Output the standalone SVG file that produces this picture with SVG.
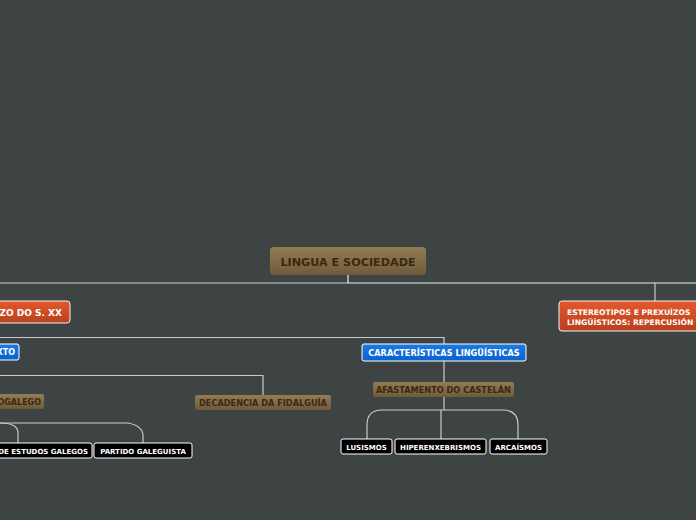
<svg xmlns="http://www.w3.org/2000/svg" width="696" height="520" viewBox="0 0 696 520">
<defs>
<linearGradient id="gBrown" x1="0" y1="0" x2="0" y2="1"><stop offset="0" stop-color="#927c55"/><stop offset="1" stop-color="#6f5b39"/></linearGradient>
<linearGradient id="gRed" x1="0" y1="0" x2="0" y2="1"><stop offset="0" stop-color="#e5582b"/><stop offset="1" stop-color="#b8401d"/></linearGradient>
<linearGradient id="gBlue" x1="0" y1="0" x2="0" y2="1"><stop offset="0" stop-color="#1d7ae3"/><stop offset="1" stop-color="#0a62cc"/></linearGradient>
</defs>
<style>
text{font-family:"DejaVu Sans","Verdana",sans-serif;font-weight:bold}
.c{fill:none;stroke:#c9cbcb;stroke-width:1.2}
.cw{fill:none;stroke:#eeeeee;stroke-width:1.2}
.brown{fill:url(#gBrown)}
.red{fill:url(#gRed);stroke:#f2f2f2;stroke-width:1}
.blue{fill:url(#gBlue);stroke:#ffffff;stroke-width:1}
.leaf{fill:#000;stroke:#ffffff;stroke-width:1}
.tb{fill:#3a2812}
.tw{fill:#ffffff}
</style>
<rect width="696" height="520" fill="#3e4444"/>
<g id="connectors">
<path class="cw" d="M348,275 V283"/>
<path class="c" d="M0,283 H348"/>
<path class="cw" d="M348,283 H696"/>
<path class="c" d="M655,283 V301"/>
<path class="c" d="M0,337.5 H444 V344"/>
<path class="c" d="M444,361 V382"/>
<path class="c" d="M0,375.5 H263 V395"/>
<path class="c" d="M444,397 V410"/>
<path class="c" d="M441,410 V439"/>
<path class="c" d="M441,410 H382 Q367,410 367,425 V439"/>
<path class="c" d="M441,410 H503 Q518,410 518,425 V439"/>
<path class="c" d="M0,423 Q18,423 18,433 V443"/>
<path class="c" d="M0,423 H128 Q143,426 143,436 V443"/>
</g>
<g id="root">
<rect class="brown" x="270" y="247" width="156" height="28" rx="4"/>
<text class="tb" x="348" y="266" font-size="11.2" text-anchor="middle">LINGUA E SOCIEDADE</text>
</g>
<g id="n-sxx">
<rect class="red" x="-10" y="301" width="80" height="22" rx="3"/>
<text class="tw" x="62" y="316" font-size="9" text-anchor="end">ZO DO S. XX</text>
</g>
<g id="n-estereotipos">
<rect class="red" x="559" y="301" width="145" height="30" rx="3"/>
<text class="tw" x="567" y="315" font-size="7.6">ESTEREOTIPOS E PREXUÍZOS</text>
<text class="tw" x="567" y="324.5" font-size="7.6">LINGÜÍSTICOS: REPERCUSIÓN</text>
</g>
<g id="n-contexto">
<rect class="blue" x="-10" y="344" width="29" height="16" rx="2"/>
<text class="tw" x="15" y="355" font-size="8" text-anchor="end">XTO</text>
</g>
<g id="n-caracteristicas">
<rect class="blue" x="362" y="344" width="164" height="17" rx="2"/>
<text class="tw" x="444" y="355.5" font-size="8.2" text-anchor="middle">CARACTERÍSTICAS LINGÜÍSTICAS</text>
</g>
<g id="n-galego">
<rect class="brown" x="-10" y="394" width="54" height="15" rx="2"/>
<text class="tb" x="41" y="404.5" font-size="8" text-anchor="end">OGALEGO</text>
</g>
<g id="n-decadencia">
<rect class="brown" x="195" y="395" width="136" height="15" rx="2"/>
<text class="tb" x="263" y="405.5" font-size="8.2" text-anchor="middle">DECADENCIA DA FIDALGUÍA</text>
</g>
<g id="n-afastamento">
<rect class="brown" x="373" y="382" width="141" height="15" rx="2"/>
<text class="tb" x="443.5" y="392.5" font-size="8.2" text-anchor="middle">AFASTAMENTO DO CASTELÁN</text>
</g>
<g id="n-estudos">
<rect class="leaf" x="-10" y="443" width="102" height="15" rx="2"/>
<text class="tw" x="88" y="453.5" font-size="7" text-anchor="end">DE ESTUDOS GALEGOS</text>
</g>
<g id="n-partido">
<rect class="leaf" x="94" y="443" width="98" height="15" rx="2"/>
<text class="tw" x="143" y="453.5" font-size="7" text-anchor="middle">PARTIDO GALEGUISTA</text>
</g>
<g id="n-lusismos">
<rect class="leaf" x="341" y="439" width="51" height="15" rx="2"/>
<text class="tw" x="366.5" y="449.5" font-size="7" text-anchor="middle">LUSISMOS</text>
</g>
<g id="n-hiperenxebrismos">
<rect class="leaf" x="395" y="439" width="91" height="15" rx="2"/>
<text class="tw" x="440.5" y="449.5" font-size="7" text-anchor="middle">HIPERENXEBRISMOS</text>
</g>
<g id="n-arcaismos">
<rect class="leaf" x="490" y="439" width="57" height="15" rx="2"/>
<text class="tw" x="518.5" y="449.5" font-size="7" text-anchor="middle">ARCAÍSMOS</text>
</g>
</svg>
